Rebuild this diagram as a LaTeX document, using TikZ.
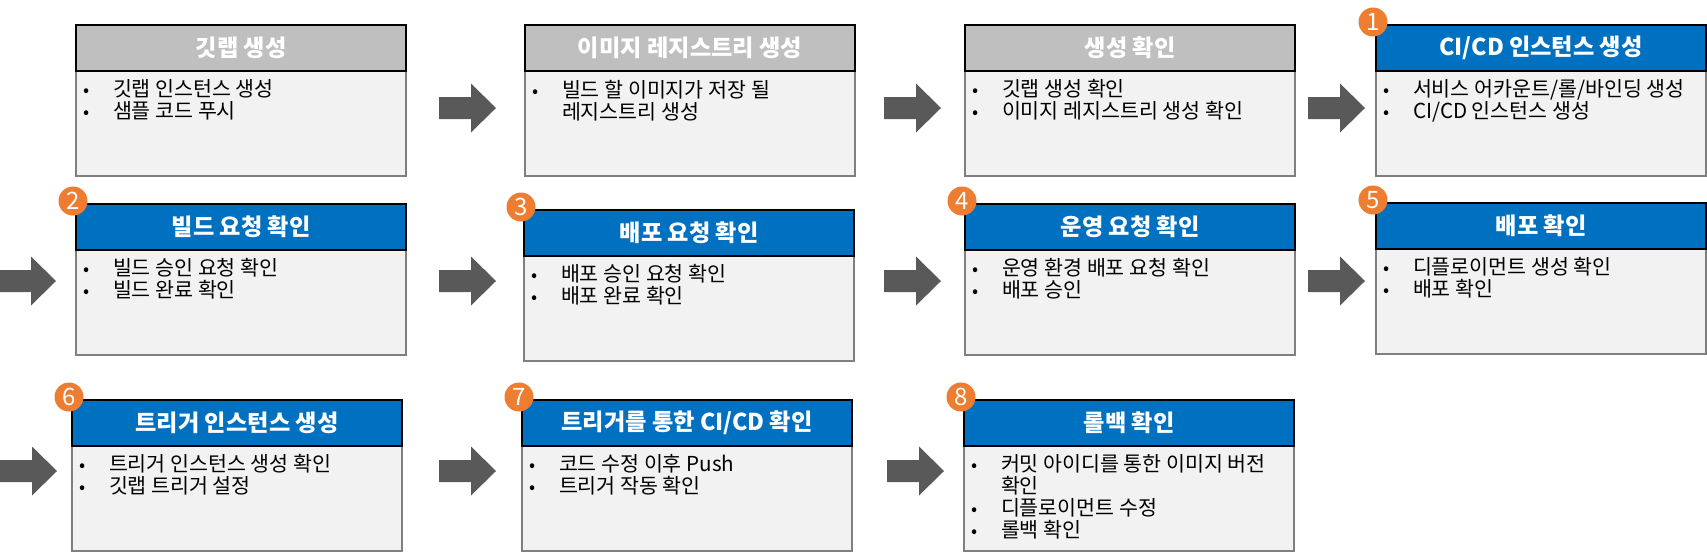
\documentclass[tikz,border=0pt]{standalone}
\usepackage{fontspec}
\setmainfont{Noto Sans CJK KR}
\usetikzlibrary{positioning}

\definecolor{headgrey}{HTML}{BFBFBF}
\definecolor{headblue}{HTML}{0070C0}
\definecolor{bodyfill}{HTML}{F2F2F2}
\definecolor{bodyline}{HTML}{7F7F7F}
\definecolor{arrowgrey}{HTML}{595959}
\definecolor{badgeorange}{HTML}{ED7D31}

% one bullet line, and the wrapped rest of a bullet
\newcommand\bul[1]{\hspace*{3.5pt}\makebox[15pt][l]{\small •}#1\par}
\newcommand\more[1]{\hspace*{18.5pt}#1\par}
\newcommand\bodytext[1]{\parbox[c][52.5pt][t]{165pt}{\fontsize{10.3}{11}\selectfont\vspace*{4.4pt}#1}}

\tikzset{
  head/.style={rectangle, draw=black, line width=0.75pt, anchor=north west, outer sep=0pt,
    minimum width=165pt, minimum height=23pt, inner sep=0pt,
    text=white, font=\fontsize{11.6}{13}\selectfont\bfseries},
  greyhead/.style={head, fill=headgrey},
  bluehead/.style={head, fill=headblue},
  bodybox/.style={rectangle, draw=bodyline, fill=bodyfill, line width=0.75pt, outer sep=0pt,
    minimum width=165pt, minimum height=52.5pt, inner sep=0pt, anchor=north west},
  badge/.style={circle, fill=badgeorange, text=white, inner sep=0pt, minimum size=14.5pt,
    font=\fontsize{12}{12}\selectfont, xshift=-1.5pt, yshift=1.5pt},
  pics/bigarrow/.style={code={
    \fill[arrowgrey] (0,-11) -- (32,-11) -- (32,-24.5) -- (57,0) -- (32,24.5) -- (32,11) -- (0,11) -- cycle;
  }}
}

\begin{document}
\begin{tikzpicture}[x=0.5pt, y=-0.5pt]
\useasboundingbox (0,0) rectangle (1707,554);

% first row
\node[bodybox] (bA) at (76,71) {\bodytext{\bul{깃랩 인스턴스 생성}\bul{샘플 코드 푸시}}};
\node[greyhead] (hA) at (76,25) {깃랩 생성};
\node[bodybox] (bB) at (525,71) {\bodytext{\bul{빌드 할 이미지가 저장 될}\more{레지스트리 생성}}};
\node[greyhead] (hB) at (525,25) {이미지 레지스트리 생성};
\node[bodybox] (bC) at (965,71) {\bodytext{\bul{깃랩 생성 확인}\bul{이미지 레지스트리 생성 확인}}};
\node[greyhead] (hC) at (965,25) {생성 확인};
\node[bodybox] (bD) at (1376,71) {\bodytext{\bul{서비스 어카운트/롤/바인딩 생성}\bul{CI/CD 인스턴스 생성}}};
\node[bluehead] (hD) at (1376,25) {CI/CD 인스턴스 생성};
\node[badge] (n1) at (hD.north west) {1};

% second row
\node[bodybox] (b2) at (76,250) {\bodytext{\bul{빌드 승인 요청 확인}\bul{빌드 완료 확인}}};
\node[bluehead] (h2) at (76,204) {빌드 요청 확인};
\node[badge] (n2) at (h2.north west) {2};
\node[bodybox] (b3) at (524,256) {\bodytext{\bul{배포 승인 요청 확인}\bul{배포 완료 확인}}};
\node[bluehead] (h3) at (524,210) {배포 요청 확인};
\node[badge] (n3) at (h3.north west) {3};
\node[bodybox] (b4) at (965,250) {\bodytext{\bul{운영 환경 배포 요청 확인}\bul{배포 승인}}};
\node[bluehead] (h4) at (965,204) {운영 요청 확인};
\node[badge] (n4) at (h4.north west) {4};
\node[bodybox] (b5) at (1376,249) {\bodytext{\bul{디플로이먼트 생성 확인}\bul{배포 확인}}};
\node[bluehead] (h5) at (1376,203) {배포 확인};
\node[badge] (n5) at (h5.north west) {5};

% third row
\node[bodybox] (b6) at (72,446) {\bodytext{\bul{트리거 인스턴스 생성 확인}\bul{깃랩 트리거 설정}}};
\node[bluehead] (h6) at (72,400) {트리거 인스턴스 생성};
\node[badge] (n6) at (h6.north west) {6};
\node[bodybox] (b7) at (522,446) {\bodytext{\bul{코드 수정 이후 Push}\bul{트리거 작동 확인}}};
\node[bluehead] (h7) at (522,400) {트리거를 통한 CI/CD 확인};
\node[badge] (n7) at (h7.north west) {7};
\node[bodybox] (b8) at (964,446) {\bodytext{\bul{커밋 아이디를 통한 이미지 버전}\more{확인}\bul{디플로이먼트 수정}\bul{롤백 확인}}};
\node[bluehead] (h8) at (964,400) {롤백 확인};
\node[badge] (n8) at (h8.north west) {8};

% block arrows between the steps
\foreach \ax/\ay in {439/108, 884/108, 1308/108, -1/281, 439/281, 884/281, 1308/281, 0/471, 439/471, 887/471}
  \pic at (\ax,\ay) {bigarrow};
\end{tikzpicture}
\end{document}
